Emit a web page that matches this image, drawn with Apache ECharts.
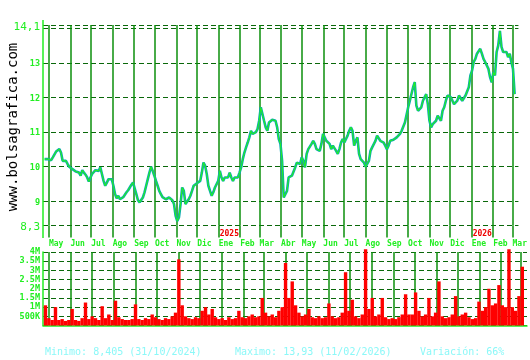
<!DOCTYPE html>
<html><head><meta charset="utf-8">
<script src="https://cdn.jsdelivr.net/npm/echarts@6/dist/echarts.min.js"></script>
<style>html,body{margin:0;padding:0;background:#fff}#c{width:530px;height:360px}</style>
</head><body><div id="c"></div>
<script>
// ---- tick labels / categories ----
const monthStarts = ['2024-05-01','2024-06-01','2024-07-01','2024-08-01','2024-09-01','2024-10-01','2024-11-01','2024-12-01',
  '2025-01-01','2025-02-01','2025-03-01','2025-04-01','2025-05-01','2025-06-01','2025-07-01','2025-08-01','2025-09-01',
  '2025-10-01','2025-11-01','2025-12-01','2026-01-01','2026-02-01','2026-03-01'];
const monthNames = ['Ene','Feb','Mar','Abr','May','Jun','Jul','Ago','Sep','Oct','Nov','Dic'];
const priceGridValues = [8.3, 9, 10, 11, 12, 13, 14, 14.1];
const priceLabelValues = [8.3, 9, 10, 11, 12, 13, 14.1];
const axisStart = '2024-04-22T12:00:00';
const axisEnd = '2026-03-09T12:00:00';
// samples every ~2.36 days
const sampleStart = '2024-04-24T20:00:00';
const sampleStepDays = 2.363;

const closePrices = [
10.22,10.27,10.22,10.2,10.19,10.27,10.32,10.44,10.41,10.51,
10.41,10.17,10.12,10.17,10.08,10.0,10.03,9.93,9.88,9.86,
9.88,9.83,9.74,9.9,9.83,9.77,9.69,9.57,9.69,9.79,
9.83,9.9,9.93,9.88,9.98,9.79,9.59,9.45,9.54,9.64,
9.59,9.64,9.45,9.21,9.09,9.16,9.06,9.09,9.12,9.11,
9.26,9.32,9.4,9.48,9.54,9.57,9.21,9.03,8.97,9.0,
9.11,9.26,9.45,9.64,9.83,10.0,9.88,9.74,9.59,9.45,
9.3,9.21,9.12,9.09,9.06,
9.09,9.11,9.06,9.03,8.92,8.58,8.43,8.53,8.92,9.4,
9.3,8.92,8.97,9.06,9.16,9.3,9.45,9.5,9.52,9.49,
9.59,9.83,10.12,10.03,9.79,9.45,9.3,9.16,9.26,9.4,
9.4,9.59,9.88,9.69,9.59,9.69,9.74,9.69,9.83,9.69,
9.59,9.69,9.74,9.69,9.83,9.98,10.22,10.41,10.56,10.7,
10.85,11.04,10.95,10.95,11.0,11.09,11.33,11.72,11.77,11.33,
11.14,11.04,11.28,11.33,11.36,11.33,11.33,11.14,10.8,10.66,
10.17,
9.11,9.16,9.3,9.69,9.74,9.74,9.79,9.98,10.12,10.17,
10.08,10.27,10.17,9.98,10.37,10.51,10.56,10.66,10.75,10.66,
10.51,10.56,10.46,10.66,10.95,10.85,10.75,10.7,10.66,10.51,
10.61,10.56,10.46,10.37,10.51,10.7,10.8,10.7,10.75,10.9,
11.04,11.14,11.04,10.61,10.75,10.85,10.37,10.22,10.17,10.12,
10.0,9.98,10.17,10.46,10.56,10.61,10.75,10.9,10.88,10.75,
10.75,10.7,10.61,10.51,10.61,10.75,10.8,10.78,10.8,10.85,
10.9,10.95,11.04,11.0,
11.28,11.23,11.72,11.91,11.86,12.3,12.45,11.77,11.62,11.67,
11.72,11.91,12.01,12.1,11.81,11.33,11.14,11.23,11.28,11.33,
11.48,11.43,11.33,11.62,11.72,11.91,12.06,12.1,12.01,11.96,
11.81,11.86,11.91,12.06,12.01,11.91,11.96,12.06,12.1,12.3,
12.64,12.78,13.03,13.12,13.27,13.32,13.41,13.27,13.12,13.03,
13.07,12.83,12.59,12.44,12.73,12.64,13.32,13.51,13.93,13.46,
13.32,13.27,13.32,13.17,13.27,13.03,12.83,12.1
];
// volume in millions, one bar per two price samples
const volumesM = [
1.1,0.4,0.3,1.0,0.3,0.35,0.25,0.3,0.9,0.3,
0.25,0.4,1.25,0.35,0.5,0.4,0.3,1.05,0.4,0.6,
0.3,1.35,0.45,0.35,0.3,0.3,0.35,1.15,0.35,0.3,
0.4,0.35,0.6,0.45,0.35,0.3,0.4,0.35,0.5,0.7,
3.6,1.1,0.5,0.4,0.35,0.45,0.4,0.8,1.0,0.6,
0.9,0.45,0.35,0.4,0.3,0.45,0.35,0.4,0.8,0.45,
0.4,0.5,0.6,0.45,0.5,1.5,0.7,0.5,0.6,0.45,
0.8,1.0,3.4,1.5,2.4,1.1,0.7,0.5,0.6,0.9,
0.45,0.4,0.5,0.4,0.45,1.2,0.5,0.4,0.45,0.7,
2.9,0.8,1.4,0.5,0.4,0.6,4.15,0.9,1.5,0.5,
0.6,1.5,0.45,0.35,0.4,0.35,0.45,0.6,1.7,0.6,
0.6,1.8,0.8,0.5,0.6,1.5,0.5,0.7,2.4,0.5,
0.4,0.45,0.6,1.6,0.5,0.6,0.7,0.45,0.35,0.4,
1.3,0.8,1.0,2.0,1.1,1.2,2.2,1.1,1.0,4.15,
1.0,0.8,1.6,3.2
];
const statsTexts = ['Minimo: 8,405 (31/10/2024)', 'Maximo: 13,93 (11/02/2026)', 'Variación: 66%'];
const siteText = 'www.bolsagrafica.com';

// ---- build ----
const DAY = 864e5;
const t0 = new Date(sampleStart).getTime();
const sampleTime = i => t0 + i * sampleStepDays * DAY;
const priceData = closePrices.map((v, i) => [sampleTime(i), v]);
const volumeData = volumesM.map((v, k) => [sampleTime(2 * k + 0.5), v]);
const monthTicks = monthStarts.map(s => new Date(s + 'T00:00:00').getTime());
const xMin = new Date(axisStart).getTime();
const xMax = new Date(axisEnd).getTime();

const FONT = 'DejaVu Sans Mono';
const BRIGHT = '#22ee22';
const VLINE = { color: '#0b8f0b', width: 1.5 };
const HDASH = { color: '#0a680a', width: 1, type: [5, 3] };

const chart = echarts.init(document.getElementById('c'), null, { renderer: 'canvas' });
chart.setOption({
  animation: false,
  backgroundColor: '#ffffff',
  grid: [
    { left: 43, top: 25, width: 484, height: 200.5 },
    { left: 43, top: 252, width: 484, height: 73.5 }
  ],
  xAxis: [
    {
      type: 'value', gridIndex: 0, min: xMin, max: xMax,
      axisLine: { show: false },
      axisTick: { show: true, customValues: monthTicks, length: 12, lineStyle: VLINE },
      splitLine: { show: true, lineStyle: VLINE },
      axisLabel: {
        customValues: monthTicks, align: 'left', margin: 3,
        formatter: v => {
          const d = new Date(v); const m = d.getMonth();
          return (m === 0 ? '{y|' + d.getFullYear() + '}' : '{y| }') + '\n{m|' + monthNames[m] + '}';
        },
        rich: {
          y: { color: '#ee0000', fontFamily: FONT, fontWeight: 'bold', fontSize: 8, lineHeight: 10, padding: [0, 0, 0, 1] },
          m: { color: BRIGHT, fontFamily: FONT, fontWeight: 'bold', fontSize: 8, lineHeight: 10 }
        }
      }
    },
    {
      type: 'value', gridIndex: 1, min: xMin, max: xMax,
      axisLine: { show: true, lineStyle: { color: BRIGHT, width: 1.5 } },
      axisTick: { show: false, customValues: monthTicks },
      splitLine: { show: true, lineStyle: VLINE },
      axisLabel: { show: false, customValues: monthTicks }
    }
  ],
  yAxis: [
    {
      type: 'value', gridIndex: 0, min: 8.3, max: 14.1,
      axisLine: { show: false },
      axisTick: { show: false, customValues: priceGridValues },
      splitLine: { show: true, lineStyle: HDASH },
      axisLabel: {
        customValues: priceLabelValues, margin: 3,
        formatter: v => (v === 14.1 || v === 8.3) ? '{b|' + String(v).replace('.', ',') + '}' : '{s|' + v + '}',
        rich: {
          b: { color: BRIGHT, fontFamily: FONT, fontSize: 11, padding: [4, 0, 0, 0] },
          s: { color: BRIGHT, fontFamily: FONT, fontWeight: 'bold', fontSize: 8.5, padding: [2, 0, 0, 0] }
        }
      }
    },
    {
      type: 'value', gridIndex: 1, min: 0, max: 4, interval: 0.5,
      axisLine: { show: true, lineStyle: { color: BRIGHT, width: 1.5 } },
      axisTick: { show: false },
      splitLine: { show: true, lineStyle: HDASH },
      axisLabel: {
        margin: 3, color: BRIGHT, fontFamily: FONT, fontWeight: 'bold', fontSize: 8.5,
        showMinLabel: false,
        formatter: v => v === 0 ? '' : (v < 1 ? Math.round(v * 1000) + 'K' : v + 'M')
      }
    }
  ],
  series: [
    { type: 'line', xAxisIndex: 0, yAxisIndex: 0, data: priceData, showSymbol: false,
      lineStyle: { color: '#0aa6b4', width: 2.6 }, z: 3 },
    { type: 'line', xAxisIndex: 0, yAxisIndex: 0, data: priceData, showSymbol: false,
      lineStyle: { color: '#22f022', width: 1.1 }, z: 4 },
    { type: 'bar', xAxisIndex: 1, yAxisIndex: 1, data: volumeData, barWidth: 3.4, clip: false,
      itemStyle: { color: '#ff0000' }, z: 3 }
  ],
  graphic: [
    { type: 'line', shape: { x1: 43, y1: 20, x2: 43, y2: 238 }, style: { stroke: BRIGHT, lineWidth: 1.5 }, z: 10 },
    { type: 'text', x: 13, y: 127, rotation: Math.PI / 2,
      style: { text: siteText, fill: '#000', font: '14px "DejaVu Sans Mono"', textAlign: 'center', textVerticalAlign: 'middle' } },
    { type: 'text', x: 45, y: 352, style: { text: statsTexts[0], fill: '#8cf8f8', font: '10px "DejaVu Sans Mono"', textVerticalAlign: 'middle' } },
    { type: 'text', x: 235, y: 352, style: { text: statsTexts[1], fill: '#8cf8f8', font: '10px "DejaVu Sans Mono"', textVerticalAlign: 'middle' } },
    { type: 'text', x: 420, y: 352, style: { text: statsTexts[2], fill: '#8cf8f8', font: '10px "DejaVu Sans Mono"', textVerticalAlign: 'middle' } }
  ]
});
</script>
</body></html>
